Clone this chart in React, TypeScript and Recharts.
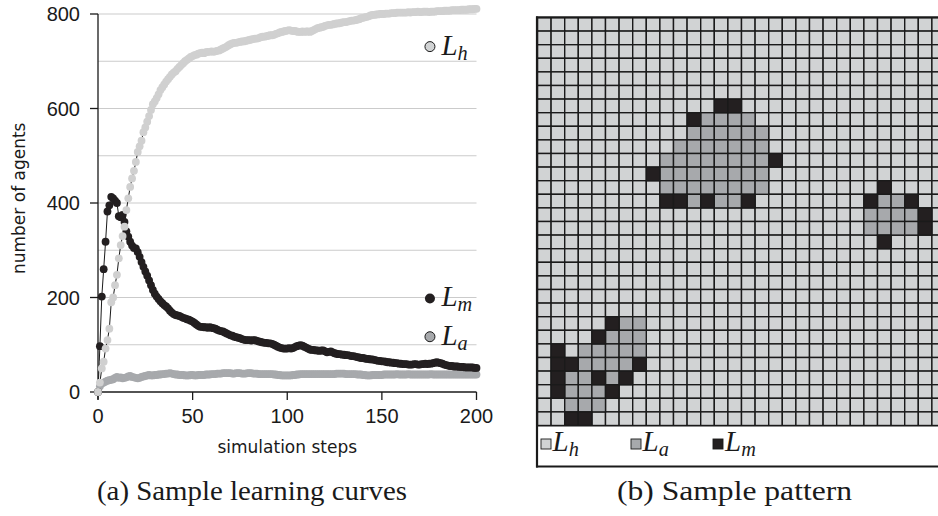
import React from 'react';
import { LineChart, Line, XAxis, YAxis, ReferenceLine, ReferenceDot, ScatterChart, Scatter } from 'recharts';

// ---------- (a) learning curves ----------
const steps = Array.from({ length: 201 }, (_, i) => i);

const lhValues = [
  0, 20, 50, 64, 92, 110, 134, 190, 200, 226,
  248, 283, 311, 330, 350, 385, 410, 434, 452, 468,
  487, 508, 520, 532, 550, 560, 572, 584, 597, 609,
  615, 622, 630, 639, 645, 651, 657, 662, 667, 672,
  676, 679, 684, 688, 692, 696, 700, 703, 706, 709,
  711, 713, 714, 716, 717, 718, 717, 719, 720, 720,
  721, 720, 721, 722, 723, 725, 727, 729, 731, 734,
  736, 738, 739, 739, 740, 741, 742, 742, 743, 744,
  745, 746, 747, 748, 748, 749, 751, 752, 752, 753,
  754, 755, 755, 756, 758, 759, 761, 762, 763, 764,
  765, 766, 765, 764, 764, 763, 762, 762, 763, 762,
  763, 763, 762, 764, 766, 768, 770, 771, 772, 773,
  775, 776, 777, 777, 778, 779, 780, 780, 781, 782,
  783, 783, 784, 785, 786, 786, 787, 788, 789, 791,
  792, 793, 794, 795, 797, 798, 798, 799, 799, 800,
  800, 800, 801, 801, 801, 802, 802, 802, 803, 803,
  803, 803, 803, 803, 804, 803, 804, 804, 804, 805,
  804, 804, 805, 805, 805, 804, 805, 805, 805, 806,
  806, 806, 806, 807, 807, 807, 807, 808, 808, 808,
  808, 808, 809, 809, 809, 809, 810, 810, 810, 811, 811,
];

const lmValues = [
  0, 97, 202, 260, 318, 382, 395, 413, 410, 405,
  400, 372, 370, 375, 360, 340, 329, 318, 310, 305,
  304, 296, 286, 275, 265, 255, 246, 236, 226, 216,
  208, 202, 197, 192, 188, 184, 181, 177, 172, 168,
  165, 163, 162, 161, 159, 157, 156, 154, 153, 151,
  149, 146, 143, 140, 138, 138, 137, 137, 136, 137,
  136, 135, 134, 132, 130, 129, 128, 126, 124, 122,
  120, 119, 117, 116, 115, 114, 112, 111, 110, 110,
  110, 109, 110, 110, 108, 107, 106, 105, 104, 104,
  103, 103, 102, 100, 98, 96, 94, 93, 92, 92,
  92, 93, 92, 93, 95, 97, 98, 99, 98, 96,
  94, 92, 90, 89, 89, 88, 88, 87, 88, 88,
  86, 84, 85, 86, 84, 82, 81, 80, 80, 79,
  79, 78, 78, 77, 76, 76, 75, 74, 73, 72,
  72, 71, 70, 70, 69, 69, 68, 67, 66, 66,
  65, 65, 64, 63, 63, 62, 62, 61, 61, 60,
  60, 59, 59, 59, 58, 58, 58, 59, 59, 58,
  58, 59, 59, 60, 59, 60, 60, 61, 62, 63,
  62, 61, 60, 58, 57, 56, 55, 55, 54, 54,
  54, 53, 53, 53, 52, 52, 52, 52, 52, 51, 51,
];

const laValues = [
  0, 12, 18, 20, 22, 24, 25, 26, 27, 30,
  32, 30, 31, 29, 30, 31, 33, 34, 32, 31,
  30, 29, 30, 32, 33, 34, 35, 36, 35, 35,
  36, 36, 37, 37, 38, 38, 39, 39, 40, 39,
  38, 37, 37, 36, 36, 36, 35, 35, 35, 36,
  36, 35, 35, 36, 36, 36, 36, 37, 37, 37,
  38, 38, 38, 39, 39, 39, 40, 40, 40, 40,
  40, 39, 39, 40, 40, 40, 39, 39, 39, 40,
  40, 40, 39, 39, 39, 38, 38, 38, 38, 38,
  38, 38, 38, 37, 37, 36, 36, 35, 35, 35,
  35, 35, 35, 36, 36, 37, 37, 38, 38, 38,
  38, 38, 38, 38, 38, 38, 38, 38, 38, 38,
  38, 38, 38, 38, 38, 38, 39, 39, 39, 39,
  39, 38, 38, 38, 38, 38, 38, 37, 37, 37,
  36, 36, 35, 35, 35, 36, 36, 36, 36, 36,
  36, 37, 37, 37, 37, 37, 37, 37, 38, 37,
  37, 37, 37, 37, 38, 37, 37, 37, 37, 37,
  37, 37, 37, 37, 37, 37, 38, 37, 37, 37,
  37, 37, 37, 37, 37, 37, 37, 37, 37, 37,
  37, 37, 37, 37, 37, 37, 37, 37, 37, 37, 37,
];

const xTicks = [0, 50, 100, 150, 200];
const yTicks = [0, 200, 400, 600, 800];
const yGridValues = [100, 200, 300, 400, 500, 600, 700, 800];

// where the inline series tags sit, in data units
const curveTags = [
  { sub: 'h', step: 175.4, value: 731, fill: '#d1d3d4', outlined: true },
  { sub: 'm', step: 175.4, value: 198, fill: '#231f20', outlined: false },
  { sub: 'a', step: 175.4, value: 117, fill: '#a7a9ac', outlined: true },
];

// ---------- (b) sample pattern: '.' = L_h, 'a' = L_a, 'm' = L_m ----------
const patternRows = [
  '..........' + '..........' + '..........',
  '..........' + '..........' + '..........',
  '..........' + '..........' + '..........',
  '..........' + '..........' + '..........',
  '..........' + '..........' + '..........',
  '..........' + '..........' + '..........',
  '..........' + '...mm.....' + '..........',
  '..........' + '.maaaa....' + '..........',
  '..........' + '.aaaaaa...' + '..........',
  '..........' + 'aaaaaaa...' + '..........',
  '.........a' + 'aaaaaaam..' + '..........',
  '........ma' + 'aaaaaaa...' + '..........',
  '.........a' + 'aaaaaaa...' + '.....m....',
  '.........m' + 'mamaam....' + '....maam..',
  '..........' + '..........' + '....aaaam.',
  '..........' + '..........' + '....aaaam.',
  '..........' + '..........' + '.....m....',
  '..........' + '..........' + '..........',
  '..........' + '..........' + '..........',
  '..........' + '..........' + '..........',
  '..........' + '..........' + '..........',
  '..........' + '..........' + '..........',
  '.....maa..' + '..........' + '..........',
  '....maaa..' + '..........' + '..........',
  '.m.aaaaa..' + '..........' + '..........',
  '.mmaaaam..' + '..........' + '..........',
  '.maamam...' + '..........' + '..........',
  '.maaam....' + '..........' + '..........',
  '..aaa.....' + '..........' + '..........',
  '..mm......' + '..........' + '..........',
];

const C_H = '#d1d3d4';
const C_A = '#a7a9ac';
const C_M = '#231f20';
const INK = '#1a1a1a';

const curveData = steps.map((s, i) => ({
  step: s,
  lh: lhValues[i],
  la: laValues[i],
  lm: lmValues[i],
}));

function cellsOf(kind: string) {
  const out: { col: number; row: number }[] = [];
  patternRows.forEach((line, r) => {
    for (let c = 0; c < line.length; c++) {
      if (line[c] === kind) out.push({ col: c + 0.5, row: r + 0.5 });
    }
  });
  return out;
}
const hCells = cellsOf('.');
const aCells = cellsOf('a');
const mCells = cellsOf('m');

const GRID_N = 30;
const GRID_PX = 408;
const CELL = GRID_PX / GRID_N;

const mathFont = 'Liberation Serif';
const sansTick = { fontSize: 20, fill: INK, fontFamily: 'Liberation Sans' };
const titleStyle = { fontFamily: 'DejaVu Sans', fontSize: 17, fill: INK };

function MathLabel({ x, y, sub, size = 29 }: { x: number; y: number; sub: string; size?: number }) {
  return (
    <text x={x} y={y} fontFamily={mathFont} fontStyle="italic" fontSize={size} fill={INK}>
      L
      <tspan fontSize={size * 0.7} dy={5}>
        {sub}
      </tspan>
    </text>
  );
}

function cellShape(fill: string) {
  return (p: any) => (
    <rect
      x={p.cx - CELL / 2}
      y={p.cy - CELL / 2}
      width={CELL}
      height={CELL}
      fill={fill}
      stroke={INK}
      strokeWidth={1.4}
    />
  );
}

export default function App() {
  return (
    <div
      style={{
        position: 'absolute',
        left: 0,
        top: 0,
        width: 938,
        height: 516,
        overflow: 'hidden',
        background: '#fff',
      }}
    >
      <div style={{ position: 'absolute', left: 0, top: 0 }}>
        <LineChart
          width={500}
          height={470}
          data={curveData}
          margin={{ top: 4.55, right: 23.5, bottom: 48, left: 0 }}
        >
          {yGridValues.map((v) => (
            <ReferenceLine key={v} y={v} stroke="#cbcbcb" strokeWidth={1.2} />
          ))}
          <XAxis
            dataKey="step"
            type="number"
            domain={[0, 200]}
            ticks={xTicks}
            interval={0}
            height={30}
            tickSize={8}
            tickMargin={9}
            stroke={INK}
            axisLine={{ stroke: INK, strokeWidth: 1.3 }}
            tickLine={{ stroke: INK, strokeWidth: 1.3 }}
            tick={sansTick}
            label={{ value: 'simulation steps', position: 'bottom', offset: 19, style: titleStyle }}
          />
          <YAxis
            type="number"
            domain={[0, 820]}
            ticks={yTicks}
            interval={0}
            width={98}
            tickSize={8}
            tickMargin={10}
            axisLine={false}
            tickLine={{ stroke: INK, strokeWidth: 1.3 }}
            tick={sansTick}
            label={{
              value: 'number of agents',
              angle: -90,
              position: 'insideLeft',
              offset: 19,
              style: { ...titleStyle, textAnchor: 'middle' },
            }}
          />
          <ReferenceLine
            segment={[
              { x: 0, y: -16 },
              { x: 0, y: 800 },
            ]}
            stroke={INK}
            strokeWidth={1.3}
            ifOverflow="visible"
          />
          <Line
            dataKey="la"
            type="linear"
            stroke={INK}
            strokeWidth={1}
            dot={{ r: 3.9, fill: C_A, stroke: 'none' }}
            activeDot={false}
            isAnimationActive={false}
          />
          <Line
            dataKey="lm"
            type="linear"
            stroke={INK}
            strokeWidth={1}
            dot={{ r: 3.9, fill: C_M, stroke: 'none' }}
            activeDot={false}
            isAnimationActive={false}
          />
          <Line
            dataKey="lh"
            type="linear"
            stroke={INK}
            strokeWidth={1}
            dot={{ r: 3.9, fill: '#d0d0d0', stroke: 'none' }}
            activeDot={false}
            isAnimationActive={false}
          />
          {curveTags.map((t) => (
            <ReferenceDot
              key={t.sub}
              x={t.step}
              y={t.value}
              r={5}
              ifOverflow="visible"
              shape={(p: any) => (
                <g>
                  <circle
                    cx={p.cx}
                    cy={p.cy}
                    r={5}
                    fill={t.fill}
                    stroke={t.outlined ? INK : 'none'}
                    strokeWidth={1}
                  />
                  <MathLabel x={p.cx + 11.5} y={p.cy + 8} sub={t.sub} />
                </g>
              )}
            />
          ))}
        </LineChart>
      </div>

      <div style={{ position: 'absolute', left: 530, top: 10 }}>
        <ScatterChart
          width={420}
          height={420}
          margin={{ top: 7.5, right: 4.5, bottom: 4.5, left: 7.5 }}
        >
          <XAxis dataKey="col" type="number" domain={[0, GRID_N]} hide allowDataOverflow />
          <YAxis dataKey="row" type="number" domain={[0, GRID_N]} reversed hide allowDataOverflow />
          <Scatter data={hCells} shape={cellShape(C_H)} isAnimationActive={false} />
          <Scatter data={aCells} shape={cellShape(C_A)} isAnimationActive={false} />
          <Scatter data={mCells} shape={cellShape(C_M)} isAnimationActive={false} />
        </ScatterChart>
      </div>

      <svg
        width={938}
        height={516}
        style={{ position: 'absolute', left: 0, top: 0, pointerEvents: 'none' }}
      >
        {/* frame of the pattern panel and its legend strip */}
        <line x1={537} y1={16.5} x2={537} y2={467.5} stroke={INK} strokeWidth={2.2} />
        <line x1={536} y1={17.3} x2={950} y2={17.3} stroke={INK} strokeWidth={2.2} />
        <line x1={536} y1={425.8} x2={950} y2={425.8} stroke={INK} strokeWidth={1.6} />
        <line x1={536} y1={466.6} x2={950} y2={466.6} stroke={INK} strokeWidth={2} />

        <rect x={541} y={439} width={10} height={10} fill={C_H} stroke={INK} strokeWidth={0.9} />
        <MathLabel x={552.5} y={451} sub="h" />
        <rect x={631} y={439} width={10} height={10} fill={C_A} stroke={INK} strokeWidth={0.9} />
        <MathLabel x={642.5} y={451} sub="a" />
        <rect x={713} y={439} width={10} height={10} fill={C_M} stroke={INK} strokeWidth={0.9} />
        <MathLabel x={725} y={451} sub="m" />

        <text
          x={97}
          y={500}
          textLength={310}
          lengthAdjust="spacingAndGlyphs"
          fontFamily={mathFont}
          fontSize={27}
          fill={INK}
        >
          (a) Sample learning curves
        </text>
        <text
          x={617}
          y={500}
          textLength={235}
          lengthAdjust="spacingAndGlyphs"
          fontFamily={mathFont}
          fontSize={27}
          fill={INK}
        >
          (b) Sample pattern
        </text>
      </svg>
    </div>
  );
}
